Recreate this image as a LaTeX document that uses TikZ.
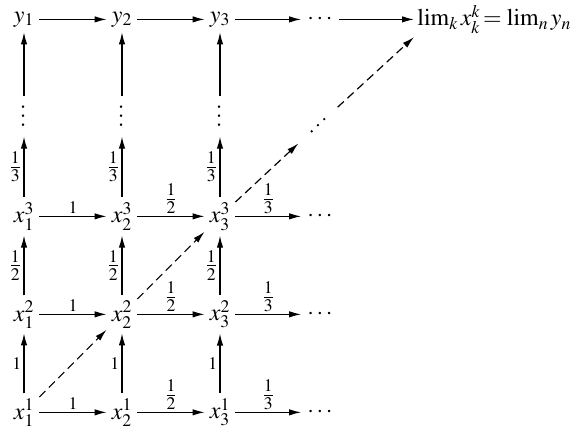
\documentclass[tikz,border=0pt]{standalone}
\usepackage{mathptmx}
\usetikzlibrary{arrows.meta}
\begin{document}
\begin{tikzpicture}[x=2.45cm, y=2.45cm, line width=0.85pt,
  font=\fontsize{17}{20}\selectfont,
  >={Latex[length=3mm,width=1.6mm]},
  arr/.style={->},
  dasharr/.style={->, dash pattern=on 6pt off 3.5pt},
  dots/.style={inner sep=4pt},
  lab/.style={inner sep=1.5pt}]
\useasboundingbox (-0.245,-0.18) rectangle (5.633,4.208);
\foreach \i in {1,2,3} {
  \foreach \k in {1,2,3} {
    \node (x\i\k) at (\i-1,\k-1) {$x_{\i}^{\k}$};
  }
  \node[dots, rotate=90, inner sep=5pt] (v\i) at (\i-1,3.02) {$\cdots$};
  \node (y\i) at (\i-1,4.01) {$y_{\i}$};
}
\foreach \k in {1,2,3}
  \node[dots] (r\k) at (3.02,\k-1) {$\cdots$};
\node[dots] (t) at (3.02,4.01) {$\cdots$};
\node[circle, inner sep=0pt, minimum size=1.3cm] (d) at (3,2.93) {};
\foreach \s in {-1,0,1}
  \fill (d) ++(44:{\s*0.09}) circle (0.9pt);
\node[anchor=west, inner sep=2pt] (lim) at (3.98,4.01) {$\lim_k x_k^k\!=\lim_n y_n$};

\foreach \k in {1,2,3} {
  \draw[arr] (x1\k) -- node[lab, above] {$\scriptstyle 1$} (x2\k);
  \draw[arr] (x2\k) -- node[lab, above] {$\frac12$} (x3\k);
  \draw[arr] (x3\k) -- node[lab, above] {$\frac13$} (r\k);
}
\foreach \i in {1,2,3} {
  \draw[arr] (x\i1) -- node[lab, left] {$\scriptstyle 1$} (x\i2);
  \draw[arr] (x\i2) -- node[lab, left] {$\frac12$} (x\i3);
  \draw[arr] (x\i3) -- node[lab, left] {$\frac13$} (v\i);
  \draw[arr] (v\i) -- (y\i);
}
\draw[arr] (y1) -- (y2);
\draw[arr] (y2) -- (y3);
\draw[arr] (y3) -- (t);
\draw[arr] (t) -- (lim);

\draw[dasharr] (x11) -- (x22);
\draw[dasharr] (x22) -- (x33);
\draw[dasharr] (x33) -- (d);
\draw[dasharr] (d) -- (lim.south west);
\end{tikzpicture}
\end{document}
